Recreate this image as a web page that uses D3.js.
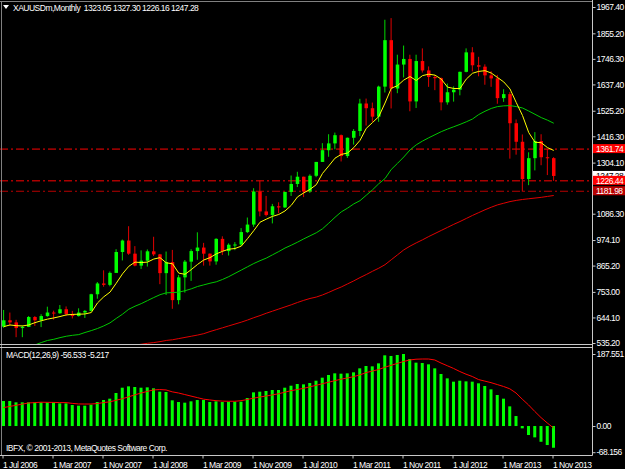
<!DOCTYPE html>
<html>
<head>
<meta charset="utf-8">
<script src="https://cdn.jsdelivr.net/npm/d3@7"></script>
<style>
  html, body { margin: 0; padding: 0; background: #000; }
  svg { display: block; }
  text { font-family: "Liberation Sans", Arial, sans-serif; font-size: 8.5px; fill: #fff; letter-spacing: -0.5px; }
</style>
</head>
<body>
<div id="chart"></div>
<script>
// monthly XAUUSD bars, Jul 2006 .. Nov 2013
const open = [605,632,623,599,604,646,632,650,665,662,679,659,650,665,672,743,789,783,834,923,972,916,865,886,926,913,833,880,718,815,882,927,942,916,883,979,927,954,955,1008,1040,1181,1096,1081,1118,1113,1179,1213,1244,1181,1248,1307,1357,1386,1421,1332,1410,1439,1556,1536,1500,1628,1826,1620,1722,1746,1565,1737,1697,1669,1664,1561,1604,1615,1691,1774,1719,1713,1676,1663,1579,1596,1472,1393,1234,1323,1396,1327,1323.05];
const high = [676,665,634,610,650,650,658,690,673,697,691,672,683,676,745,795,845,840,935,976,1033,948,930,934,988,915,925,932,825,889,935,1007,962,917,982,990,960,965,1025,1070,1195,1227,1162,1128,1135,1180,1249,1265,1244,1254,1307,1387,1425,1432,1424,1411,1447,1576,1577,1560,1632,1913,1920,1764,1803,1764,1764,1791,1714,1677,1667,1641,1629,1692,1791,1796,1755,1723,1694,1678,1617,1605,1488,1424,1348,1434,1425,1362,1327.30];
const low = [600,610,560,560,603,608,603,647,635,660,650,640,648,642,670,724,775,777,834,887,911,862,851,861,906,786,740,681,700,750,800,890,865,865,869,910,908,931,948,1004,1030,1075,1075,1045,1088,1111,1162,1200,1157,1175,1242,1307,1329,1361,1309,1324,1381,1417,1462,1478,1478,1603,1535,1600,1667,1523,1537,1688,1627,1613,1527,1551,1564,1591,1689,1693,1672,1636,1627,1555,1563,1321,1338,1180,1208,1271,1293,1251,1226.16];
const close = [632,623,599,604,646,632,650,665,662,679,659,650,665,672,743,789,783,834,923,972,916,865,886,926,913,833,880,718,815,882,927,942,916,883,979,927,954,955,1008,1040,1181,1096,1081,1118,1113,1179,1213,1244,1181,1248,1307,1357,1386,1421,1332,1410,1439,1556,1536,1500,1628,1826,1620,1722,1746,1565,1737,1697,1669,1664,1561,1604,1615,1691,1774,1719,1713,1676,1663,1579,1596,1472,1393,1234,1323,1396,1327,1323,1247.28];

// moving averages
const yellowMa = [605,612,609,608,612,622,630,637,642,648,655,657,658,659,665,706,732,752,790,830,862,880,878,880,893,899,877,873,833,828,848,870,889,899,915,926,935,938,948,980,1014,1050,1063,1075,1083,1098,1122,1158,1175,1190,1210,1258,1290,1323,1339,1345,1368,1399,1450,1475,1500,1558,1621,1632,1656,1671,1654,1675,1681,1677,1660,1626,1620,1620,1660,1685,1693,1696,1686,1667,1648,1618,1560,1505,1432,1391,1389,1368,1356];
const greenMa = [null,null,null,510,518,527,537,546,551,558,564,568,571,580,588,597,608,621,640,658,679,692,703,716,729,741,749,750,752,758,766,776,783,790,796,806,818,832,846,860,874,886,897,911,925,940,952,965,979,992,1005,1022,1046,1071,1094,1110,1128,1142,1165,1188,1214,1236,1275,1301,1328,1358,1380,1396,1410,1423,1436,1447,1457,1467,1478,1490,1509,1523,1535,1543,1546,1547,1543,1537,1524,1510,1496,1485,1472];
const redMa = [null,null,null,null,null,null,null,null,null,null,null,null,null,null,null,null,null,null,512,517,521,526,530,534,537,541,546,549,554,559,564,569,575,584,592,600,608,616,624,633,643,652,662,671,680,689,698,708,717,725,731,740,751,763,774,787,800,814,827,841,854,869,890,911,932,948,962,975,989,1002,1015,1028,1041,1053,1066,1079,1091,1103,1114,1124,1131,1138,1143,1147,1150,1153,1156,1160,1164];

// MACD(12,26,9)
const macdHist = [65.1,65.1,61.7,61.7,61.7,61.7,61.7,61.7,61.7,59,59,54.7,53,53,55.5,62.5,67.7,71.2,86,99.8,103.3,101.6,99.8,100.7,98.2,89.4,88.6,66.9,62.5,60.8,64.3,67.7,67.7,62.5,64.3,62.5,63.4,63.4,63.4,72.9,87.7,89.4,91.2,93.8,93.8,99.8,105,109.4,108.5,112,118,125.9,132.9,137.2,136.3,137.2,139.8,150.2,156.3,155.4,163.2,184.1,182.4,185,187.55,174.5,165,164.1,160.6,150.2,135.5,124.1,115.5,118,116.3,115.5,111.2,104.2,95.5,80.8,71.2,51.2,26,-6,-23.4,-29.5,-41,-49.5,-56.533];
const macdSignal = [48,51,54,57,60,61,62,61.7,61.5,61,61,59,57.5,57.3,57.3,58.5,61,63,67,71,76,81,86,90,94,95,94,89,86,82,78,74,70,68,66,65,64.5,64.5,66,69,72.5,75.5,78,81,84,88,92,95,98,102,106,110,114,118,122,125,128.5,133,139,143,147,153,158,163,168,172,174,174.5,174.5,172,164,157,150,142,135,129,121,117,113,108,103,97,86,70,55,38,22,8,-5.217];

// axis labels
const priceTicks = [1967.40,1855.20,1746.30,1637.40,1525.20,1416.30,1304.10,1086.30,974.10,865.20,753.00,644.10,535.20];
const macdTicks = [187.551, 0, -68.156];
const macdTickLabels = ["187.551", "0.00", "-68.156"];
const dateTickIdx = [0,8,16,24,32,40,48,56,64,72,80,88];
const dateLabels = ["1 Jul 2006","1 Mar 2007","1 Nov 2007","1 Jul 2008","1 Mar 2009","1 Nov 2009","1 Jul 2010","1 Mar 2011","1 Nov 2011","1 Jul 2012","1 Mar 2013","1 Nov 2013"];

// horizontal levels drawn on the chart
const levels = [1361.74, 1226.44, 1181.98];
const levelColors = ["#ff0000", "#ff0000", "#b80000"];
const bid = 1247.28;

const width = 625, height = 469;
const axisX = 592;

const svg = d3.select("#chart").append("svg")
    .attr("width", width)
    .attr("height", height);

svg.append("rect").attr("width", width).attr("height", height).attr("fill", "#000");

// Scales
const x = d3.scaleLinear().domain([0, 94.4]).range([2, axisX]);   // left edge of bar i
const y = d3.scaleLinear().domain([535.2, 1967.4]).range([343, 7]);
const ym = d3.scaleLinear().domain([-68.156, 187.551]).range([452.2, 354]);

const defs = svg.append("defs");
defs.append("clipPath").attr("id", "clipMain")
    .append("rect").attr("x", 0).attr("y", 2).attr("width", axisX).attr("height", 342);
defs.append("clipPath").attr("id", "clipMacd")
    .append("rect").attr("x", 0).attr("y", 348).attr("width", axisX).attr("height", 107);

const main = svg.append("g").attr("clip-path", "url(#clipMain)");
const sub = svg.append("g").attr("clip-path", "url(#clipMacd)");

// level lines
levels.forEach((v, k) => {
    main.append("line")
        .attr("x1", 0).attr("x2", axisX)
        .attr("y1", y(v)).attr("y2", y(v))
        .attr("stroke", levelColors[k])
        .attr("stroke-width", 1)
        .attr("stroke-dasharray", "8,3,2,3");
});

// candles
const bars = d3.range(close.length);
const bodyW = 3.5;
const up = i => close[i] >= open[i];

main.selectAll(".wick").data(bars).join("line")
    .attr("x1", i => x(i) + 1.6).attr("x2", i => x(i) + 1.6)
    .attr("y1", i => y(high[i])).attr("y2", i => y(low[i]))
    .attr("stroke", i => up(i) ? "#00d800" : "#e00000")
    .attr("stroke-width", 1);

main.selectAll(".body").data(bars).join("rect")
    .attr("x", i => x(i))
    .attr("width", bodyW)
    .attr("y", i => y(Math.max(open[i], close[i])))
    .attr("height", i => Math.max(1, Math.abs(y(open[i]) - y(close[i]))))
    .attr("fill", i => up(i) ? "#00ff00" : "#ff0000");

// moving averages
const maLine = d3.line()
    .defined(d => d != null)
    .x((d, i) => x(i) + 1.75)
    .y(d => y(d));

[[redMa, "#e00000"], [greenMa, "#00c800"], [yellowMa, "#ffff00"]].forEach(([s, c]) => {
    main.append("path")
        .datum(s)
        .attr("fill", "none")
        .attr("stroke", c)
        .attr("stroke-width", 1)
        .attr("d", maLine);
});

// MACD histogram + signal
sub.selectAll(".hist").data(bars).join("rect")
    .attr("x", i => x(i))
    .attr("width", 3)
    .attr("y", i => Math.min(ym(macdHist[i]), ym(0)))
    .attr("height", i => Math.abs(ym(macdHist[i]) - ym(0)))
    .attr("fill", "#00ff00");

sub.append("path")
    .datum(macdSignal)
    .attr("fill", "none")
    .attr("stroke", "#ff0000")
    .attr("stroke-width", 1)
    .attr("d", d3.line().x((d, i) => x(i) + 1.5).y(d => ym(d)));

// frame lines
const frame = svg.append("g").attr("stroke", "#c8c8c8").attr("stroke-width", 1);
frame.append("line").attr("x1", 1.5).attr("x2", 1.5).attr("y1", 1).attr("y2", 455.5).attr("stroke", "#808080");
frame.append("line").attr("x1", 0).attr("x2", axisX).attr("y1", 1.5).attr("y2", 1.5).attr("stroke", "#808080");
frame.append("line").attr("x1", 0).attr("x2", axisX).attr("y1", 344.5).attr("y2", 344.5);
frame.append("line").attr("x1", 0).attr("x2", axisX).attr("y1", 347.5).attr("y2", 347.5);
frame.append("line").attr("x1", 0).attr("x2", axisX + 0.5).attr("y1", 455.5).attr("y2", 455.5);
frame.append("line").attr("x1", axisX + 0.5).attr("x2", axisX + 0.5).attr("y1", 0).attr("y2", 455.5);

// right price axis
const yAxis = svg.append("g")
    .attr("transform", `translate(${axisX + 0.5},0)`)
    .call(d3.axisRight(y).tickValues(priceTicks).tickFormat(d3.format(".2f")).tickSize(3).tickPadding(1));
const macdAxis = svg.append("g")
    .attr("transform", `translate(${axisX + 0.5},0)`)
    .call(d3.axisRight(ym).tickValues(macdTicks).tickFormat((d, i) => macdTickLabels[i]).tickSize(3).tickPadding(1));
// bottom date axis
const xAxis = svg.append("g")
    .attr("transform", "translate(0.5,455.5)")
    .call(d3.axisBottom(x).tickValues(dateTickIdx).tickFormat((d, i) => dateLabels[i]).tickSize(3).tickSizeOuter(0));

[yAxis, macdAxis, xAxis].forEach(g => {
    g.attr("font-size", null).attr("font-family", null);
    g.select(".domain").remove();
    g.selectAll(".tick line").attr("stroke", "#c8c8c8");
    g.selectAll(".tick text").attr("fill", "#fff");
});
xAxis.selectAll(".tick text").attr("text-anchor", "start").attr("dx", 0).attr("y", 6).attr("dy", "0.71em");

// price labels for the levels and the bid
function priceTag(v, bg, fg) {
    const ty = y(v);
    svg.append("rect").attr("x", axisX + 1).attr("y", ty - 5).attr("width", 32).attr("height", 9).attr("fill", bg);
    svg.append("text").attr("x", axisX + 4).attr("y", ty + 3).style("fill", fg).text(d3.format(".2f")(v));
}
priceTag(bid, "#ffffff", "#000000");
priceTag(levels[0], levelColors[0], "#ffffff");
priceTag(levels[1], levelColors[1], "#ffffff");
priceTag(levels[2], levelColors[2], "#ffffff");

// header and captions
svg.append("path").attr("d", "M3,5 L9,5 L6,9 Z").attr("fill", "#fff");
svg.append("text").attr("x", 13).attr("y", 11)
    .text("XAUUSDm,Monthly  " + [open[88], high[88], low[88], close[88]].map(d3.format(".2f")).join(" "))
    .attr("xml:space", "preserve");
svg.append("text").attr("x", 6).attr("y", 358)
    .text(`MACD(12,26,9) ${macdHist[88].toFixed(3)} ${macdSignal[88].toFixed(3)}`);
svg.append("text").attr("x", 6).attr("y", 450.5)
    .text("IBFX, \u00a9 2001-2013, MetaQuotes Software Corp.");
</script>
</body>
</html>
